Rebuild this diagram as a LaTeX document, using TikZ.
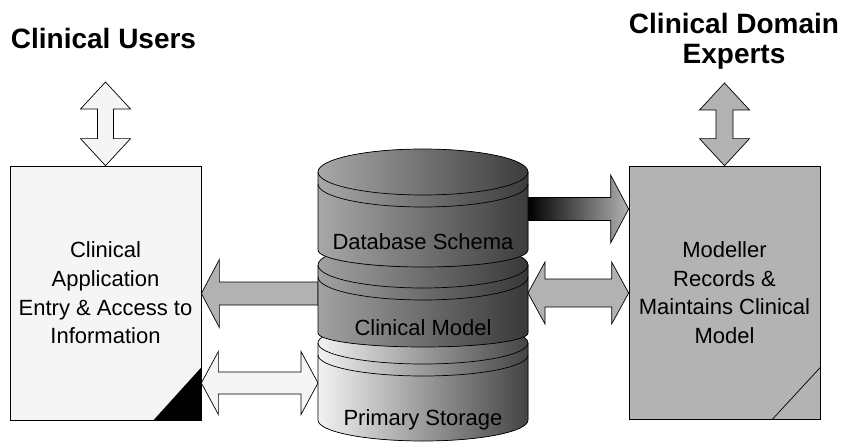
\documentclass[tikz,border=0pt]{standalone}
\usepackage{fontspec}
\setmainfont{Liberation Sans}
\usetikzlibrary{calc}
\definecolor{paper}{HTML}{F5F5F5}
\definecolor{midgray}{HTML}{B2B2B2}
\definecolor{boxgray}{HTML}{B3B3B3}
\definecolor{cylAl}{HTML}{A8A8A8}
\definecolor{cylAr}{HTML}{3C3C3C}
\definecolor{cylBl}{HTML}{A2A2A2}
\definecolor{cylBr}{HTML}{383838}
\definecolor{cylCl}{HTML}{F2F2F2}
\definecolor{cylCr}{HTML}{444444}
% double horizontal block arrow: #1 opts, #2 left tip, #3 right tip, #4 shaft half, #5 head half, #6 head length
\newcommand\dblH[6]{\path[#1] let \p1=(#2), \p2=(#3) in
  (\x1,\y1) -- (\x1+#6,\y1+#5) -- (\x1+#6,\y1+#4) -- (\x2-#6,\y1+#4) -- (\x2-#6,\y1+#5) -- (\x2,\y1)
  -- (\x2-#6,\y1-#5) -- (\x2-#6,\y1-#4) -- (\x1+#6,\y1-#4) -- (\x1+#6,\y1-#5) -- cycle;}
% double vertical block arrow: #2 top tip, #3 bottom tip
\newcommand\dblV[6]{\path[#1] let \p1=(#2), \p2=(#3) in
  (\x1,\y1) -- (\x1+#5,\y1-#6) -- (\x1+#4,\y1-#6) -- (\x1+#4,\y2+#6) -- (\x1+#5,\y2+#6) -- (\x1,\y2)
  -- (\x1-#5,\y2+#6) -- (\x1-#4,\y2+#6) -- (\x1-#4,\y1-#6) -- (\x1-#5,\y1-#6) -- cycle;}
% single block arrow pointing right: #2 tail, #3 tip
\newcommand\sglR[6]{\path[#1] let \p1=(#2), \p2=(#3) in
  (\x1,\y2+#4) -- (\x2-#6,\y2+#4) -- (\x2-#6,\y2+#5) -- (\x2,\y2) -- (\x2-#6,\y2-#5) -- (\x2-#6,\y2-#4) -- (\x1,\y2-#4) -- cycle;}
% single block arrow pointing left: #2 tail, #3 tip
\newcommand\sglL[6]{\path[#1] let \p1=(#2), \p2=(#3) in
  (\x1,\y2+#4) -- (\x2+#6,\y2+#4) -- (\x2+#6,\y2+#5) -- (\x2,\y2) -- (\x2+#6,\y2-#5) -- (\x2+#6,\y2-#4) -- (\x1,\y2-#4) -- cycle;}
% cylinder: #1 top centre y, #2 top radius y, #3 side bottom y, #4 bottom radius y, #5 left colour, #6 right colour
\newcommand\cyl[6]{%
  \fill[left color=#5, right color=#6] (318,#1) -- (318,#3)
    arc[start angle=180,end angle=360,x radius=105pt,y radius=#4pt] -- (528,#1)
    arc[start angle=0,end angle=180,x radius=105pt,y radius=#2pt] -- cycle;
  \draw (318,#1) -- (318,#3) arc[start angle=180,end angle=360,x radius=105pt,y radius=#4pt] -- (528,#1);
  \draw (423,#1) ellipse[x radius=105pt,y radius=#2pt];
  \draw (318,#1+12) arc[start angle=180,end angle=360,x radius=105pt,y radius=#2pt];}
\begin{document}
\begin{tikzpicture}[x=1pt,y=-1pt,line width=0.7pt,
  heading/.style={font=\fontsize{28}{30}\selectfont\bfseries, align=center, inner sep=0},
  boxtext/.style={font=\fontsize{22}{28.7}\selectfont, align=center},
  cyltext/.style={font=\fontsize{22}{26}\selectfont, anchor=base, inner sep=0},
  appbox/.style={draw, fill=paper, minimum width=191pt, minimum height=254pt, inner sep=2pt, boxtext},
  modbox/.style={draw, fill=boxgray, minimum width=191pt, minimum height=253pt, inner sep=2pt, boxtext}]
\useasboundingbox (0,0) rectangle (848,446);
\fill[white] (0,0) rectangle (848,446);

% headings
\node[heading] (users) at (103.5,38) {Clinical Users};
\node[heading] (experts) at (734,41) {Clinical Domain\\Experts};

% boxes
\node[appbox] (app) at (105.5,293) {Clinical\\Application\\Entry \& Access to\\Information};
\node[modbox] (model) at (724.5,292.5) {Modeller\\Records \&\\Maintains Clinical\\Model};
\fill (app.south east) -- ($(app.south east)+(0,-53)$) -- ($(app.south east)+(-48,0)$) -- cycle;
\draw ($(model.south east)+(0,-52)$) -- ($(model.south east)+(-48,0)$);

% connection points
\coordinate (usersTip) at (105.5,82);
\coordinate (expertsTip) at (724.5,83);
\coordinate (schemaE) at (528,209);
\coordinate (cmodelW) at (318,293.5);
\coordinate (cmodelE) at (528,293);
\coordinate (storageW) at (318,383);

% arrows
\dblV{draw, fill=paper}{usersTip}{app.north}{8pt}{25pt}{27pt}
\dblV{draw, fill=midgray}{expertsTip}{model.north}{8.5pt}{25pt}{27pt}
\sglL{draw, fill=midgray}{cmodelW}{app.east |- cmodelW}{11.5pt}{34pt}{18pt}
\dblH{draw, fill=paper}{app.east |- storageW}{storageW}{11pt}{31.5pt}{17pt}
\sglR{draw, left color=black, right color=midgray}{schemaE}{model.west |- schemaE}{11.5pt}{34pt}{18pt}
\dblH{draw, fill=midgray}{cmodelE}{model.west |- cmodelE}{14pt}{31pt}{17pt}

% stacked cylinders
\cyl{343}{21}{420}{21}{cylCl}{cylCr}
\node[cyltext] (storage) at (423,425) {Primary Storage};
\cyl{265}{23}{333}{14}{cylBl}{cylBr}
\node[cyltext] (cmodel) at (423,335) {Clinical Model};
\cyl{172}{23}{250}{17}{cylAl}{cylAr}
\node[cyltext] (schema) at (423,250) {Database Schema};
\end{tikzpicture}
\end{document}
